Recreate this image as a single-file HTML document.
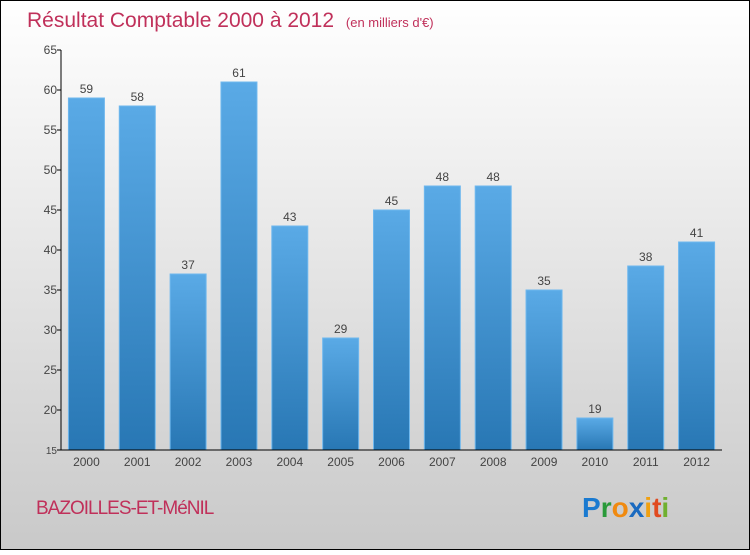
<!DOCTYPE html>
<html><head><meta charset="utf-8"><style>
html,body{margin:0;padding:0}
body{width:750px;height:550px;overflow:hidden;font-family:"Liberation Sans",sans-serif}
</style></head><body>
<svg width="750" height="550" viewBox="0 0 750 550">
<defs>
<linearGradient id="bg" x1="0" y1="0" x2="0" y2="1"><stop offset="0" stop-color="#ffffff"/><stop offset="1" stop-color="#c9c9c9"/></linearGradient>
<linearGradient id="bar" x1="0" y1="0" x2="0" y2="1"><stop offset="0" stop-color="#5aaae6"/><stop offset="1" stop-color="#2877b4"/></linearGradient>
</defs>
<rect x="0.5" y="0.5" width="749" height="549" fill="url(#bg)" stroke="#000"/>
<text x="27" y="27" font-size="21" fill="#c0305a">Résultat Comptable 2000 à 2012 <tspan font-size="13" dx="6">(en milliers d'€)</tspan></text>
<g id="plot"></g>
<text x="36" y="514" font-size="19" fill="#c0305a" letter-spacing="-1">BAZOILLES-ET-MéNIL</text>
<text x="582" y="517" font-size="28" font-weight="bold"><tspan fill="#1a7ad0">P</tspan><tspan fill="#2a9a3a">r</tspan><tspan fill="#f08a10">o</tspan><tspan fill="#1a6ac0">x</tspan><tspan fill="#f0a010">i</tspan><tspan fill="#e04a20">t</tspan><tspan fill="#70b030">i</tspan></text>
</svg>
<script>
const categories=["2000","2001","2002","2003","2004","2005","2006","2007","2008","2009","2010","2011","2012"];
const values=[59,58,37,61,43,29,45,48,48,35,19,38,41];
const yTicks=[15,20,25,30,35,40,45,50,55,60,65];
const NS="http://www.w3.org/2000/svg";
const g=document.getElementById('plot');
const x0=61,x1=722,yTop=50,yBot=450,yMin=15,yMax=65;
const band=(x1-x0)/categories.length;
const y=v=>yBot-(v-yMin)/(yMax-yMin)*(yBot-yTop);
const xc=i=>x0+band*(i+0.5);
function mk(t,a){const e=document.createElementNS(NS,t);for(const k in a)e.setAttribute(k,a[k]);g.appendChild(e);return e;}
yTicks.forEach(t=>{
  const l=mk('line',{x1:x0-4,x2:x0,y1:y(t),y2:y(t),stroke:'#000'});
  
  
  const tx=mk('text',{x:x0-4,y:y(t)+4,'text-anchor':'end','font-size':t===15?10:12,fill:'#444'});
  tx.textContent=t;
  
  
});
values.forEach((v,i)=>{
  const w=36;
  const r=mk('rect',{x:xc(i)-w/2,y:y(v),width:w,height:yBot-y(v),fill:'url(#bar)',stroke:'#6fb8ee','stroke-width':1});
  
  
  const vl=mk('text',{x:xc(i),y:y(v)-5,'text-anchor':'middle','font-size':12,fill:'#444'});
  vl.textContent=v;
  
  
  const cl=mk('text',{x:xc(i),y:yBot+16,'text-anchor':'middle','font-size':12,fill:'#444'});
  cl.textContent=categories[i];
  
  
});
const ya=mk('line',{x1:x0,x2:x0,y1:yTop,y2:yBot,stroke:'#000'});


const xa=mk('line',{x1:x0,x2:x1,y1:yBot,y2:yBot,stroke:'#000'});


</script>
</body></html>
